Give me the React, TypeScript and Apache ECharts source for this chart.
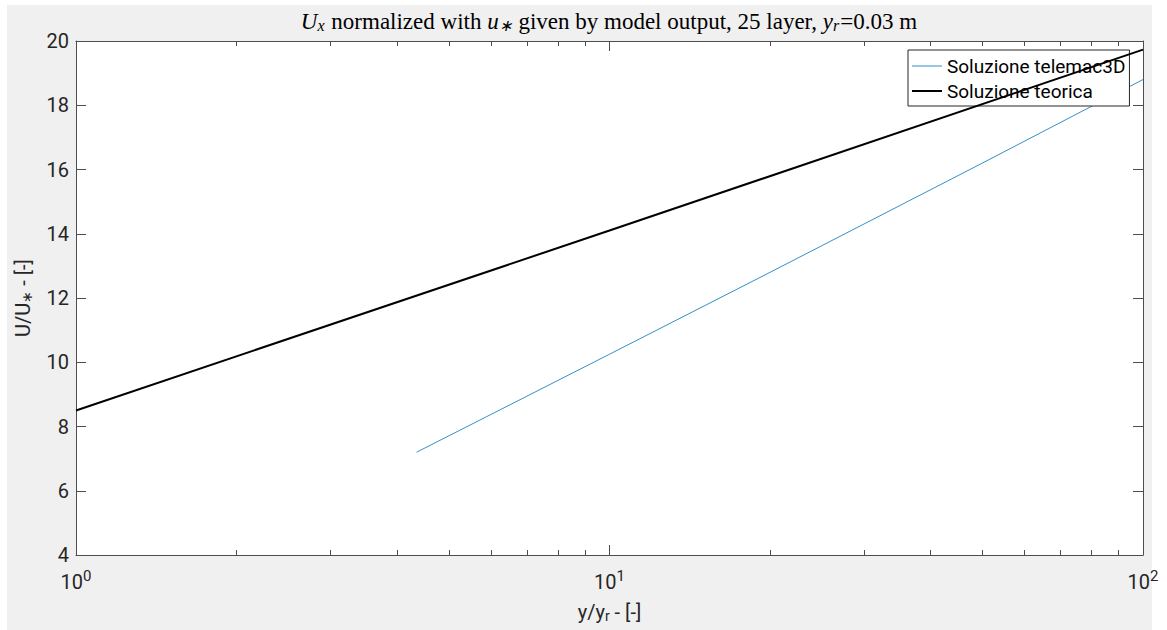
import React, { useEffect, useRef } from "react";
import * as echarts from "echarts";

// ---- data ----
const xMajorTicks = [1, 10, 100];
const xMinorTicks = [2, 3, 4, 5, 6, 7, 8, 9, 20, 30, 40, 50, 60, 70, 80, 90];
const yMin = 4;
const yMax = 20;
const yStep = 2;

const telemacX = [4.35, 10, 20, 50, 100];
const telemacY = [7.2, 10.25, 12.8, 16.2, 18.8];

const teoricaX = [1, 10, 100];
const teoricaY = [8.5, 14.1, 19.73];

const seriesNames = ["Soluzione telemac3D", "Soluzione teorica"];

const AXIS_COLOR = "#4d4d4d";
const TEXT_COLOR = "#262626";
const SANS = "Roboto";
const SERIF = "Liberation Serif";

const GRID = { left: 76, top: 41, width: 1067, height: 514 };

export default function App() {
  const ref = useRef<HTMLDivElement>(null);

  useEffect(() => {
    if (!ref.current) return;
    const chart = echarts.init(ref.current, undefined, { renderer: "svg" });

    const tickLine = { color: AXIS_COLOR, width: 1 };
    const supFormatter = (v: number) => {
      const e = Math.round(Math.log10(v));
      return "{b|10}{s|" + e + "}";
    };
    const supRich = {
      b: { fontSize: 20, fontFamily: SANS, color: TEXT_COLOR },
      s: { fontSize: 15, fontFamily: SANS, color: TEXT_COLOR, padding: [0, 0, 12, 0] },
    };

    const logBase = {
      type: "log" as const,
      logBase: 10,
      min: 1,
      max: 100,
      splitLine: { show: false },
      minorTick: { show: false },
    };

    const option: any = {
      animation: false,
      backgroundColor: "transparent",
      grid: [
        { ...GRID, show: true, backgroundColor: "#ffffff", borderWidth: 0, containLabel: false },
        { ...GRID, show: false, containLabel: false },
      ],
      graphic: [
        {
          type: "text",
          x: 609,
          y: 21,
          style: {
            text:
              "{i|U}{sub|x}{r| normalized with }{i|u}{sub|∗}{r| given by model output, 25 layer, }{i|y}{sub|r}{r|=0.03 m}",
            align: "center",
            verticalAlign: "middle",
            rich: {
              r: { fontFamily: SERIF, fontSize: 23, color: "#000" },
              i: { fontFamily: SERIF, fontSize: 23, fontStyle: "italic", color: "#000" },
              sub: {
                fontFamily: SERIF,
                fontSize: 16,
                fontStyle: "italic",
                color: "#000",
                padding: [9, 1, 0, 0],
              },
            },
          },
        },
      ],
      legend: {
        show: true,
        data: [
          { name: seriesNames[0], lineStyle: { width: 0.8 } },
          { name: seriesNames[1], lineStyle: { width: 2 } },
        ],
        orient: "vertical",
        left: 908,
        top: 50,
        padding: [5, 4, 4, 3],
        itemGap: 3,
        itemWidth: 30,
        itemHeight: 14,
        itemStyle: { opacity: 0 },
        borderColor: TEXT_COLOR,
        borderWidth: 1,
        borderRadius: 0,
        backgroundColor: "#ffffff",
        textStyle: { fontFamily: SANS, fontSize: 19, color: "#000", lineHeight: 22 },
      },
      xAxis: [
        {
          ...logBase,
          gridIndex: 0,
          position: "bottom",
          axisLine: { show: true, lineStyle: tickLine },
          axisTick: { show: true, inside: true, length: 10, lineStyle: tickLine, customValues: xMajorTicks },
          axisLabel: {
            show: true,
            customValues: xMajorTicks,
            formatter: supFormatter,
            rich: supRich,
            margin: 13,
            color: TEXT_COLOR,
          },
          name: "{n|y/y}{sub|r}{n| - [-]}",
          nameLocation: "middle",
          nameGap: 45,
          nameTextStyle: {
            rich: {
              n: { fontFamily: SANS, fontSize: 20, color: TEXT_COLOR },
              sub: { fontFamily: SANS, fontSize: 14, color: TEXT_COLOR, padding: [9, 0, 0, 0] },
            },
          },
        },
        {
          ...logBase,
          gridIndex: 0,
          position: "top",
          axisLine: { show: true, lineStyle: tickLine },
          axisTick: { show: true, inside: true, length: 10, lineStyle: tickLine, customValues: xMajorTicks },
          axisLabel: { show: false },
        },
        {
          ...logBase,
          gridIndex: 1,
          position: "bottom",
          axisLine: { show: false },
          axisTick: { show: true, inside: true, length: 5, lineStyle: tickLine, customValues: xMinorTicks },
          axisLabel: { show: false },
        },
        {
          ...logBase,
          gridIndex: 1,
          position: "top",
          axisLine: { show: false },
          axisTick: { show: true, inside: true, length: 5, lineStyle: tickLine, customValues: xMinorTicks },
          axisLabel: { show: false },
        },
      ],
      yAxis: [
        {
          type: "value",
          gridIndex: 0,
          position: "left",
          min: yMin,
          max: yMax,
          interval: yStep,
          axisLine: { show: true, lineStyle: tickLine },
          axisTick: { show: true, inside: true, length: 10, lineStyle: tickLine },
          axisLabel: { show: true, fontFamily: SANS, fontSize: 20, color: TEXT_COLOR, margin: 7 },
          splitLine: { show: false },
          name: "{n|U/U}{sub|∗}{n| - [-]}",
          nameLocation: "middle",
          nameRotate: 90,
          nameGap: 42,
          nameTextStyle: {
            rich: {
              n: { fontFamily: SANS, fontSize: 20, color: TEXT_COLOR },
              sub: { fontFamily: SANS, fontSize: 14, color: TEXT_COLOR, padding: [9, 0, 0, 0] },
            },
          },
        },
        {
          type: "value",
          gridIndex: 0,
          position: "right",
          min: yMin,
          max: yMax,
          interval: yStep,
          axisLine: { show: true, lineStyle: tickLine },
          axisTick: { show: true, inside: true, length: 10, lineStyle: tickLine },
          axisLabel: { show: false },
          splitLine: { show: false },
        },
        {
          type: "value",
          gridIndex: 1,
          min: yMin,
          max: yMax,
          interval: yStep,
          show: false,
        },
      ],
      series: [
        {
          name: seriesNames[0],
          type: "line",
          xAxisIndex: 0,
          yAxisIndex: 0,
          symbol: "none",
          data: telemacX.map((x, i) => [x, telemacY[i]]),
          lineStyle: { color: "#0072BD", width: 0.8 },
          itemStyle: { color: "#0072BD" },
          z: 3,
        },
        {
          name: seriesNames[1],
          type: "line",
          xAxisIndex: 0,
          yAxisIndex: 0,
          symbol: "none",
          data: teoricaX.map((x, i) => [x, teoricaY[i]]),
          lineStyle: { color: "#000000", width: 2 },
          itemStyle: { color: "#000000" },
          z: 4,
        },
      ],
    };

    chart.setOption(option);
    return () => chart.dispose();
  }, []);

  return (
    <div style={{ position: "fixed", left: 0, top: 0, width: 1167, height: 630, background: "#ffffff" }}>
      <div style={{ position: "absolute", left: 7, top: 5, width: 1145, height: 625, background: "#f0f0f0" }} />
      <div ref={ref} style={{ position: "absolute", left: 0, top: 0, width: 1167, height: 630 }} />
    </div>
  );
}
